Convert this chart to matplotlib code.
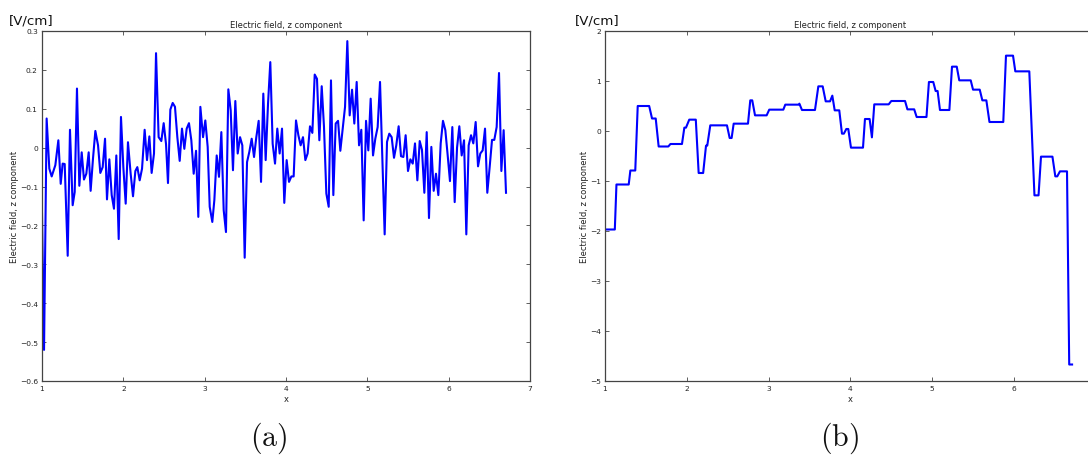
import matplotlib
matplotlib.use("Agg")
import matplotlib.pyplot as plt

# ---------------- data: panel (a) ----------------
a_x = [1.000,1.025,1.057,1.090,1.119,1.164,1.201,1.230,1.254,1.279,1.316,1.344,1.377,1.402,1.430,1.459,1.488,1.516,1.545,1.574,
       1.598,1.627,1.656,1.689,1.717,1.746,1.775,1.799,1.828,1.857,1.885,1.914,1.943,1.971,2.000,2.029,2.057,2.090,2.119,2.148,
       2.172,2.201,2.230,2.262,2.291,2.320,2.348,2.377,2.402,2.434,2.467,2.496,2.525,2.549,2.578,2.607,2.635,2.664,2.693,2.721,
       2.750,2.779,2.807,2.836,2.865,2.894,
       2.922,2.947,2.980,3.008,3.037,3.062,3.094,3.119,3.148,3.176,3.205,3.234,3.262,3.291,3.320,3.348,3.377,3.406,3.435,3.463,
       3.492,3.521,3.549,3.578,3.607,3.635,3.664,3.693,3.721,3.750,3.779,3.807,3.836,3.865,3.893,3.922,3.951,3.979,4.008,4.037,
       4.066,4.094,4.123,4.152,4.180,4.209,4.238,4.266,4.295,4.324,4.353,4.381,4.410,4.439,4.467,4.496,4.525,4.553,4.582,4.611,
       4.640,4.668,4.697,4.726,4.754,4.783,4.812,
       4.840,4.869,4.898,4.926,4.955,4.984,5.012,5.041,5.070,5.098,5.127,5.156,5.184,5.213,5.242,5.270,5.299,5.328,5.356,5.385,
       5.414,5.443,5.471,5.500,5.529,5.558,5.586,5.615,5.644,5.672,5.701,5.730,5.758,5.787,5.816,5.844,5.873,5.902,5.930,5.959,
       5.988,6.016,6.045,6.074,6.103,6.131,6.160,6.189,6.217,6.246,6.275,6.303,6.332,6.361,6.389,6.418,6.447,6.475,6.504,6.533,
       6.561,6.590,6.619,6.648,6.676,6.705]
a_y = [-0.17,-0.52,0.075,-0.054,-0.074,-0.045,0.019,-0.093,-0.041,-0.042,-0.278,0.046,-0.148,-0.114,0.152,-0.098,-0.012,-0.082,-0.067,-0.012,
       -0.111,-0.028,0.043,0.006,-0.065,-0.050,0.023,-0.133,-0.030,-0.122,-0.157,-0.020,-0.235,0.079,-0.050,-0.144,0.014,-0.067,-0.125,-0.060,
       -0.050,-0.084,-0.054,0.046,-0.032,0.029,-0.065,-0.015,0.243,0.027,0.017,0.063,0.009,-0.091,0.098,0.115,0.105,0.027,-0.034,0.049,
       -0.003,0.049,0.063,0.019,-0.067,-0.008,
       -0.178,0.105,0.027,0.070,0.002,-0.152,-0.191,-0.135,-0.020,-0.075,0.040,-0.161,-0.217,0.150,0.096,-0.058,0.120,-0.015,0.027,0.006,
       -0.283,-0.037,-0.011,0.023,-0.024,0.027,0.069,-0.088,0.139,-0.032,0.113,0.220,0.010,-0.041,0.049,-0.015,0.049,-0.142,-0.032,-0.088,
       -0.074,-0.074,0.070,0.032,0.006,0.027,-0.032,-0.015,0.055,0.038,0.188,0.177,0.019,0.158,0.054,-0.118,-0.152,0.173,-0.122,0.062,
       0.069,-0.008,0.049,0.105,0.274,0.083,0.149,
       0.062,0.169,0.006,0.046,-0.187,0.069,-0.007,0.126,-0.020,0.023,0.053,0.169,-0.028,-0.223,0.015,0.036,0.027,-0.026,0.006,0.055,
       -0.022,-0.024,0.032,-0.060,-0.030,-0.041,0.011,-0.084,0.017,-0.006,-0.116,0.040,-0.181,0.002,-0.111,-0.067,-0.122,0.011,0.069,0.045,
       -0.020,-0.086,0.053,-0.140,0.000,0.055,-0.020,0.019,-0.223,0.006,0.032,0.011,0.066,-0.048,-0.015,-0.007,0.049,-0.116,-0.050,0.020,
       0.020,0.053,0.192,-0.060,0.045,-0.116]

# ---------------- data: panel (b) ----------------
b_x = [1.00,1.12,1.14,1.29,1.31,1.37,1.40,1.54,1.575,1.62,1.656,1.774,1.80,1.941,1.97,1.99,2.03,2.11,2.145,2.20,
       2.235,2.25,2.287,2.491,2.524,2.548,2.573,2.748,2.776,2.80,2.834,2.976,3.008,3.18,3.204,3.368,3.376,3.408,3.567,3.608,
       3.661,3.698,3.751,3.779,3.808,3.864,3.897,3.92,3.95,3.974,4.007,4.154,4.178,4.235,4.263,4.292,4.468,4.50,4.668,4.697,
       4.78,4.81,4.93,4.96,5.013,5.042,5.066,5.095,5.21,5.242,5.30,5.331,5.471,5.499,5.581,5.613,5.662,5.70,5.869,5.902,
       5.988,6.016,6.187,6.25,6.30,6.33,6.47,6.505,6.529,6.562,6.648,6.675,6.71]
b_y = [-1.97,-1.97,-1.07,-1.07,-0.79,-0.79,0.50,0.50,0.25,0.25,-0.31,-0.31,-0.26,-0.26,0.067,0.067,0.227,0.227,-0.84,-0.84,
       -0.293,-0.293,0.113,0.113,-0.14,-0.14,0.147,0.147,0.613,0.613,0.313,0.313,0.427,0.427,0.527,0.527,0.547,0.42,0.42,0.893,
       0.893,0.593,0.593,0.707,0.413,0.413,-0.053,-0.053,0.04,0.04,-0.333,-0.333,0.24,0.24,-0.127,0.533,0.533,0.60,0.60,0.433,
       0.433,0.28,0.28,0.98,0.98,0.80,0.80,0.42,0.42,1.287,1.287,1.013,1.013,0.827,0.827,0.613,0.613,0.18,0.18,1.507,
       1.507,1.193,1.193,-1.287,-1.287,-0.513,-0.513,-0.907,-0.907,-0.807,-0.807,-4.67,-4.67]

# ---------------- ticks / text ----------------
a_xticks = [1, 2, 3, 4, 5, 6, 7]
a_yticks = [-0.6, -0.5, -0.4, -0.3, -0.2, -0.1, 0.0, 0.1, 0.2, 0.3]
a_yticklabels = ['\u22120.6', '\u22120.5', '\u22120.4', '\u22120.3', '\u22120.2', '\u22120.1', '0', '0.1', '0.2', '0.3']
b_xticks = [1, 2, 3, 4, 5, 6]
b_yticks = [-5, -4, -3, -2, -1, 0, 1, 2]
b_yticklabels = ['\u22125', '\u22124', '\u22123', '\u22122', '\u22121', '0', '1', '2']
title_text = 'Electric field, z component'
ylabel_text = 'Electric field, z component'
xlabel_text = 'x'
unit_text = '[V/cm]'
panel_labels = [r'$\mathrm{(a)}$', r'$\mathrm{(b)}$']

W, H = 1088, 456
fig = plt.figure(figsize=(W / 100, H / 100), dpi=100)

def px_axes(l, t, r, b):
    return [l / W, 1 - b / H, (r - l) / W, (b - t) / H]

ax_a = fig.add_axes(px_axes(42, 32, 530, 382))
ax_b = fig.add_axes(px_axes(605, 32, 605 + 6 * 81.8, 382))

line_color = '#0000ff'
ax_a.plot(a_x, a_y, color=line_color, lw=1.5)
ax_b.plot(b_x, b_y, color=line_color, lw=1.5)

ax_a.set_xlim(1, 7)
ax_a.set_ylim(-0.6, 0.3)
ax_b.set_xlim(1, 7)
ax_b.set_ylim(-5, 2)

ax_a.set_xticks(a_xticks)
ax_a.set_xticklabels([str(t) for t in a_xticks])
ax_a.set_yticks(a_yticks)
ax_a.set_yticklabels(a_yticklabels)
ax_b.set_xticks(b_xticks)
ax_b.set_xticklabels([str(t) for t in b_xticks])
ax_b.set_yticks(b_yticks)
ax_b.set_yticklabels(b_yticklabels)

for ax in (ax_a, ax_b):
    for s in ax.spines.values():
        s.set_color('#444444')
        s.set_linewidth(0.9)
    ax.tick_params(direction='in', length=3, width=0.6, colors='#444444',
                   labelsize=5.4, labelcolor='#222222', top=True, right=True, pad=3)
    ax.set_title(title_text, fontsize=6, color='#222222', pad=3)
    ax.set_ylabel(ylabel_text, fontsize=6, color='#222222', labelpad=0.5)
    ax.set_xlabel(xlabel_text, fontsize=6, color='#222222', labelpad=2)

fig.text(31 / W, 1 - 21 / H, unit_text, fontsize=9.6, ha='center', va='center', color='#111111')
fig.text(597 / W, 1 - 21 / H, unit_text, fontsize=9.6, ha='center', va='center', color='#111111')

fig.text(269 / W, 1 - 438 / H, panel_labels[0], fontsize=21.5, ha='center', va='center',
         math_fontfamily='cm', color='#111111')
fig.text(839 / W, 1 - 438 / H, panel_labels[1], fontsize=21.5, ha='center', va='center',
         math_fontfamily='cm', color='#111111')

fig.savefig('out.png', dpi=100)
